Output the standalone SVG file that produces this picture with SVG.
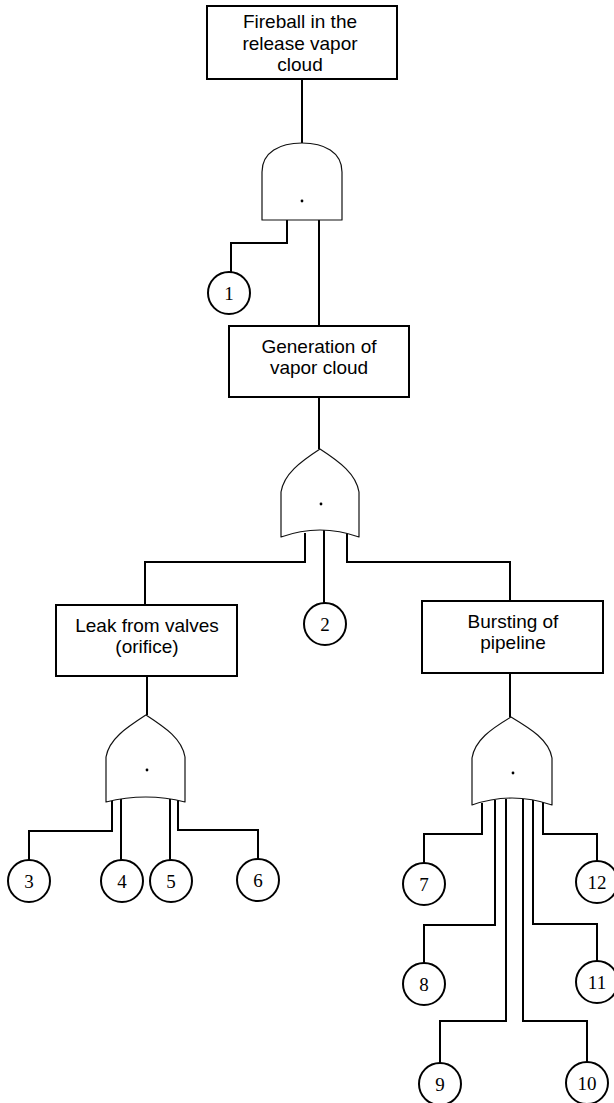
<svg xmlns="http://www.w3.org/2000/svg" width="614" height="1103" viewBox="0 0 614 1103">
  <style>
    .wire { fill: none; stroke: #000; stroke-width: 2; }
    .box { fill: #fff; stroke: #000; stroke-width: 2; }
    .gate { fill: #fff; stroke: #111; stroke-width: 1.2; stroke-linejoin: round; }
    .dot { fill: #000; }
    .ev { fill: #fff; stroke: #000; stroke-width: 2; }
    .lbl { font-family: "Liberation Sans", Arial, sans-serif; font-size: 19px; text-anchor: middle; fill: #000; }
    .num { font-family: "Liberation Serif", "Times New Roman", serif; font-size: 19px; text-anchor: middle; fill: #000; }
  </style>

  <!-- connectors -->
  <g id="connectors">
    <path class="wire" d="M302,79 V143"/>
    <path class="wire" d="M287,220 V243 H231 V272"/>
    <path class="wire" d="M319,220 V326"/>
    <path class="wire" d="M319,397 V449"/>
    <path class="wire" d="M305,533 V562 H145 V605"/>
    <path class="wire" d="M324,530 V603"/>
    <path class="wire" d="M347,533 V562 H510 V601"/>
    <path class="wire" d="M147,676 V715"/>
    <path class="wire" d="M112,801 V831 H29 V860"/>
    <path class="wire" d="M121,799 V860"/>
    <path class="wire" d="M170,799 V860"/>
    <path class="wire" d="M178,800 V830 H258 V859"/>
    <path class="wire" d="M510,673 V717"/>
    <path class="wire" d="M482,803 V834 H424 V863"/>
    <path class="wire" d="M495,800 V925 H424 V963"/>
    <path class="wire" d="M506,799 V1021 H440 V1063"/>
    <path class="wire" d="M523,799 V1021 H587 V1062"/>
    <path class="wire" d="M533,800 V924 H597 V961"/>
    <path class="wire" d="M543,802 V834 H597 V861"/>
  </g>

  <!-- events -->
  <g id="top-event">
    <rect class="box" x="207" y="6" width="190" height="73"/>
    <text class="lbl" x="300" y="28">Fireball in the</text>
    <text class="lbl" x="300" y="50">release vapor</text>
    <text class="lbl" x="300" y="71">cloud</text>
  </g>
  <g id="and-gate">
    <path class="gate" d="M262,220 V172 C262,152 280,143 302,143 C324,143 342,152 342,172 V220 Z"/>
    <circle class="dot" cx="302" cy="201" r="1.4"/>
  </g>
  <g id="generation">
    <rect class="box" x="229" y="326" width="180" height="71"/>
    <text class="lbl" x="319" y="353">Generation of</text>
    <text class="lbl" x="319" y="374">vapor cloud</text>
  </g>
  <g id="or-gate-1">
    <path class="gate" d="M281,537 V492 C284,474 300,462 320,449 C340,462 356,474 359,492 V537 Q320,523 281,537 Z"/>
    <circle class="dot" cx="321" cy="504" r="1.4"/>
  </g>
  <g id="leak">
    <rect class="box" x="56" y="605" width="181" height="71"/>
    <text class="lbl" x="147" y="632">Leak from valves</text>
    <text class="lbl" x="147" y="653">(orifice)</text>
  </g>
  <g id="or-gate-2">
    <path class="gate" d="M106,802 V757 C109,739 126,728 146,715 C166,728 182,739 185,757 V802 Q146,792 106,802 Z"/>
    <circle class="dot" cx="147" cy="770" r="1.4"/>
  </g>
  <g id="bursting">
    <rect class="box" x="422" y="601" width="181" height="72"/>
    <text class="lbl" x="513" y="628">Bursting of</text>
    <text class="lbl" x="513" y="649">pipeline</text>
  </g>
  <g id="or-gate-3">
    <path class="gate" d="M472,805 V758 C475,740 491,729 511,717 C531,729 549,740 552,758 V805 Q512,791 472,805 Z"/>
    <circle class="dot" cx="513" cy="773" r="1.4"/>
  </g>

  <!-- basic events -->
  <g id="e1"><circle class="ev" cx="229" cy="293" r="21"/><text class="num" x="229" y="300">1</text></g>
  <g id="e2"><circle class="ev" cx="325" cy="624" r="21"/><text class="num" x="325" y="631">2</text></g>
  <g id="e3"><circle class="ev" cx="29" cy="881" r="21"/><text class="num" x="29" y="888">3</text></g>
  <g id="e4"><circle class="ev" cx="122" cy="881" r="21"/><text class="num" x="122" y="888">4</text></g>
  <g id="e5"><circle class="ev" cx="171" cy="881" r="21"/><text class="num" x="171" y="888">5</text></g>
  <g id="e6"><circle class="ev" cx="258" cy="880" r="21"/><text class="num" x="258" y="887">6</text></g>
  <g id="e7"><circle class="ev" cx="424" cy="884" r="21"/><text class="num" x="424" y="891">7</text></g>
  <g id="e8"><circle class="ev" cx="424" cy="984" r="21"/><text class="num" x="424" y="991">8</text></g>
  <g id="e9"><circle class="ev" cx="440" cy="1084" r="21"/><text class="num" x="440" y="1091">9</text></g>
  <g id="e10"><circle class="ev" cx="587" cy="1083" r="21"/><text class="num" x="587" y="1090">10</text></g>
  <g id="e11"><circle class="ev" cx="597" cy="982" r="21"/><text class="num" x="597" y="989">11</text></g>
  <g id="e12"><circle class="ev" cx="597" cy="882" r="21"/><text class="num" x="597" y="889">12</text></g>
</svg>
